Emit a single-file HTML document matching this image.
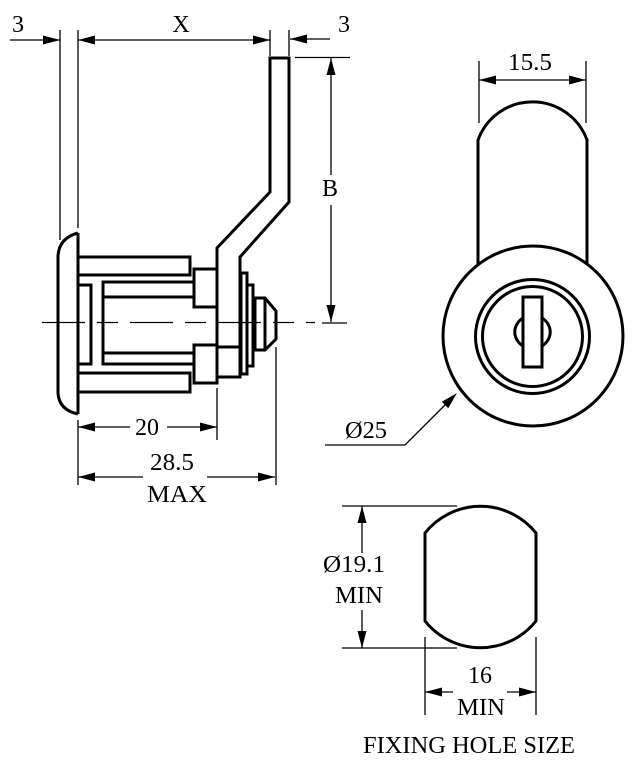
<!DOCTYPE html>
<html><head><meta charset="utf-8"><style>
html,body{margin:0;padding:0;background:#fff;}
svg{display:block;}
text{font-family:"Liberation Serif",serif;fill:#000;}
</style></head><body>
<svg width="639" height="770" viewBox="0 0 639 770" xmlns="http://www.w3.org/2000/svg">
<rect width="639" height="770" fill="#fff"/>
<!-- dimension lines -->
<g stroke="#000" stroke-width="1.3" fill="none">
<path d="M10,40 H60 M78,40 H270 M290,39 H330"/>
<path d="M60,30 V240 M78,30 V228 M270,30 V56 M289,30 V56"/>
<path d="M295,57.5 H350 M331,58 V175 M331,205 V322 M322,323 H347"/>
<path d="M479,61 V123 M586,61 V123 M479,80 H586"/>
<path d="M325,445 H405 L452,398"/>
<path d="M78,427 H130 M167,427 H217 M78,420 V485 M217,388 V440 M276,347 V485"/>
<path d="M78,477 H143 M207,477 H275"/>
<path d="M342,506 H457 M342,648 H457 M362,506 V553 M362,610 V648"/>
<path d="M425,637 V715 M536,637 V715 M425,692 H453 M507,692 H536"/>
<path d="M42,322.5 H315" stroke-dasharray="43 12 21 12"/>
</g>
<!-- arrowheads -->
<g fill="#000">
<polygon points="60,40 43,35.5 43,44.5"/>
<polygon points="78,40 95,35.5 95,44.5"/>
<polygon points="270,40 253,35.5 253,44.5"/>
<polygon points="290,39 307,34.5 307,43.5"/>
<polygon points="331,58 326.5,75 335.5,75"/>
<polygon points="331,322 326.5,305 335.5,305"/>
<polygon points="479,80 496,75.5 496,84.5"/>
<polygon points="586,80 569,75.5 569,84.5"/>
<polygon points="457,393 441.8,401.8 448.2,408.2"/>
<polygon points="78,427 95,422.5 95,431.5"/>
<polygon points="217,427 200,422.5 200,431.5"/>
<polygon points="78,477 95,472.5 95,481.5"/>
<polygon points="275,477 258,472.5 258,481.5"/>
<polygon points="362,506 357.5,523 366.5,523"/>
<polygon points="362,648 357.5,631 366.5,631"/>
<polygon points="425,692 442,687.5 442,696.5"/>
<polygon points="536,692 519,687.5 519,696.5"/>
</g>
<!-- side view of lock -->
<g stroke="#000" stroke-width="3" fill="none" stroke-linejoin="miter">
<path d="M78,233 L78,414 M78,233 Q59,238 58,256 L58,393 Q59,410 78,414"/>
<rect x="78" y="257" width="112" height="18"/>
<rect x="78" y="373" width="112" height="19"/>
<rect x="78" y="285" width="13" height="79"/>
<path d="M194,282 H103 V364 H194 M103,297 H194 M103,353 H194"/>
<rect x="194" y="269" width="23" height="38"/>
<rect x="194" y="345" width="23" height="38"/>
<path d="M217,347 H241"/>
<path d="M217,383 L217,248 L270,192 L270,58 L289,58 L289,202 L240,257 L240,377 L217,377"/>
<rect x="241" y="273" width="6" height="101"/>
<rect x="247" y="285" width="6" height="81"/>
<path d="M255,298 L265,298 L276,311 L276,339 L265,350 L255,350 Z M265,298 V350"/>
</g>
<!-- front view -->
<g stroke="#000" stroke-width="3" fill="none">
<path d="M478,265 V140 A58,58 0 0 1 587,140 V265"/>
<circle cx="533" cy="336" r="90"/>
<circle cx="532.5" cy="336.5" r="57"/>
<circle cx="532.5" cy="336.5" r="50"/>
<path d="M523,318 A19,17 0 0 0 523,346 M542,318 A19,17 0 0 1 542,346"/>
<rect x="523" y="297" width="19" height="70"/>
</g>
<!-- fixing hole -->
<g stroke="#000" stroke-width="3" fill="none">
<path d="M425,533 A71,71 0 0 1 536,533 V621 A71,71 0 0 1 425,621 Z"/>
</g>
<!-- labels -->
<g font-size="24" text-anchor="middle">
<text x="18" y="32">3</text>
<text x="181" y="32">X</text>
<text x="344" y="32">3</text>
<text x="330" y="196">B</text>
<text x="530" y="70" textLength="44" lengthAdjust="spacingAndGlyphs">15.5</text>
<text x="366" y="438" textLength="42" lengthAdjust="spacingAndGlyphs">Ø25</text>
<text x="147" y="435">20</text>
<text x="172" y="470" textLength="44" lengthAdjust="spacingAndGlyphs">28.5</text>
<text x="177" y="502" textLength="60" lengthAdjust="spacingAndGlyphs">MAX</text>
<text x="354" y="572" textLength="62" lengthAdjust="spacingAndGlyphs">Ø19.1</text>
<text x="359" y="603" textLength="48" lengthAdjust="spacingAndGlyphs">MIN</text>
<text x="480" y="683">16</text>
<text x="481" y="715" textLength="48" lengthAdjust="spacingAndGlyphs">MIN</text>
<text x="469" y="753" textLength="212" lengthAdjust="spacingAndGlyphs">FIXING HOLE SIZE</text>
</g>
</svg>
</body></html>
